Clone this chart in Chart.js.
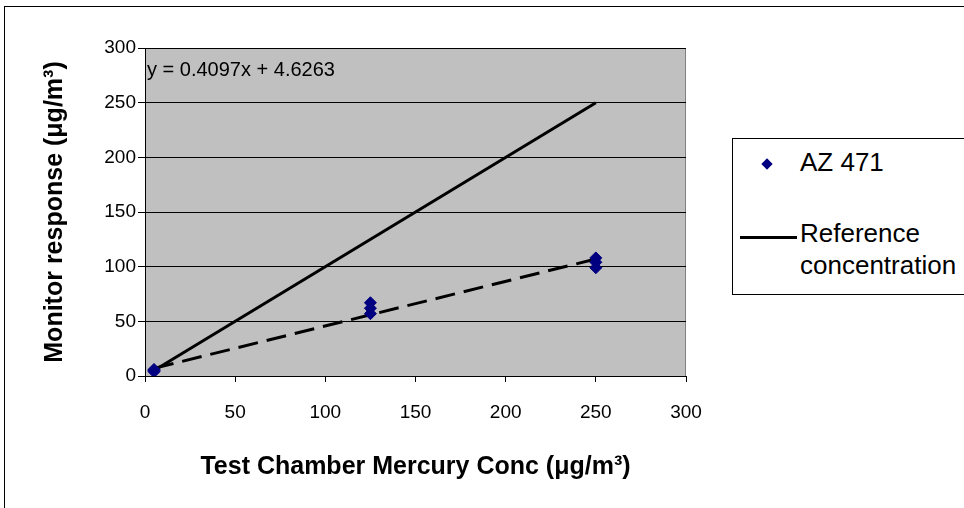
<!DOCTYPE html>
<html>
<head>
<meta charset="utf-8">
<script src="https://cdn.jsdelivr.net/npm/chart.js@4"></script>
<style>
  html, body { margin: 0; padding: 0; background: #fff; overflow: hidden; }
  body { width: 964px; height: 508px; position: relative; font-family: "Liberation Sans", Arial, sans-serif; }
  #frame { position: absolute; left: 4px; top: 6px; width: 1000px; height: 1000px; border: 1px solid #000; box-sizing: border-box; }
  #chart { position: absolute; left: 0; top: 0; }
  #eq { position: absolute; left: 147px; top: 58px; font-size: 20px; color: #000; white-space: nowrap; }
  #legend { position: absolute; left: 732px; top: 138px; width: 260px; height: 157px; border: 1px solid #000; box-sizing: border-box; background: #fff; }
  #legend .txt { position: absolute; font-size: 26px; color: #000; white-space: nowrap; line-height: 32px; }
  #legend .dia { position: absolute; width: 8px; height: 8px; background: #000080; transform: rotate(45deg); }
  #legend .ln { position: absolute; height: 3px; background: #000; }
</style>
</head>
<body>
<div id="frame"></div>
<canvas id="chart" width="964" height="508"></canvas>
<div id="eq">y = 0.4097x + 4.6263</div>
<div id="legend">
  <div class="dia" style="left:30px; top:21px;"></div>
  <div class="txt" style="left:67px; top:7px;">AZ 471</div>
  <div class="ln" style="left:7px; top:97px; width:57px;"></div>
  <div class="txt" style="left:67px; top:78px;">Reference<br>concentration</div>
</div>
<script>
// valores
const concTeste = [5, 5, 5, 125, 125, 125, 250, 250, 250];
const respostaAZ = [4, 5, 6, 57, 62, 67, 99, 104, 108];
const refX = [5, 250];
const refY = [5, 250];
const tendX = [5, 250];
const tendY = [7, 107];

const fonte = '"Liberation Sans", Arial, sans-serif';

function pares(xs, ys) {
    return xs.map((x, i) => ({ x: x, y: ys[i] }));
}

// fundo cinza da área de plotagem
const fundoPlot = {
    id: 'fundoPlot',
    beforeDraw(chart) {
        const { ctx, chartArea: a } = chart;
        ctx.save();
        ctx.fillStyle = '#C0C0C0';
        ctx.fillRect(a.left, a.top, a.right - a.left, a.bottom - a.top);
        ctx.strokeStyle = '#808080';
        ctx.lineWidth = 1;
        ctx.beginPath();
        ctx.moveTo(a.left, a.top + 0.5);
        ctx.lineTo(a.right - 0.5, a.top + 0.5);
        ctx.lineTo(a.right - 0.5, a.bottom);
        ctx.stroke();
        ctx.restore();
    }
};

const ctx = document.getElementById('chart').getContext('2d');
new Chart(ctx, {
    type: 'scatter',
    data: {
        datasets: [
            {
                label: 'Reference concentration',
                data: pares(refX, refY),
                showLine: true,
                borderColor: '#000',
                borderWidth: 3,
                pointRadius: 0,
                order: 2
            },
            {
                label: 'Tendência',
                data: pares(tendX, tendY),
                showLine: true,
                borderColor: '#000',
                borderWidth: 3,
                borderDash: [20, 9],
                pointRadius: 0,
                order: 3
            },
            {
                label: 'AZ 471',
                data: pares(concTeste, respostaAZ),
                pointStyle: 'rectRot',
                pointRadius: 6,
                backgroundColor: '#000080',
                borderColor: '#000080',
                borderWidth: 1,
                order: 1
            }
        ]
    },
    options: {
        responsive: false,
        animation: false,
        layout: { padding: { left: 28, top: 48, right: 278, bottom: 4 } },
        plugins: {
            legend: { display: false },
            tooltip: { enabled: false }
        },
        scales: {
            x: {
                type: 'linear',
                min: 0,
                max: 300,
                afterFit: (s) => { s.height = 128; },
                ticks: { stepSize: 50, color: '#000', font: { family: fonte, size: 19 }, padding: 19, maxRotation: 0 },
                grid: { drawOnChartArea: false, drawTicks: true, tickLength: 6, color: '#000' },
                border: { color: '#000', width: 1 },
                title: {
                    display: true,
                    text: 'Test Chamber Mercury Conc (μg/m³)',
                    color: '#000',
                    font: { family: fonte, size: 25, weight: 'bold' },
                    padding: { top: 0, bottom: 22 }
                }
            },
            y: {
                type: 'linear',
                min: 0,
                max: 300,
                afterFit: (s) => { s.width = 117; },
                ticks: { stepSize: 50, color: '#000', font: { family: fonte, size: 19 }, padding: 2 },
                grid: { color: '#000', drawTicks: true, tickLength: 7 },
                border: { color: '#000', width: 1 },
                title: {
                    display: true,
                    text: 'Monitor response (μg/m³)',
                    color: '#000',
                    font: { family: fonte, size: 25, weight: 'bold' },
                    padding: { top: 12, bottom: 0 }
                }
            }
        }
    },
    plugins: [fundoPlot]
});
</script>
</body>
</html>
